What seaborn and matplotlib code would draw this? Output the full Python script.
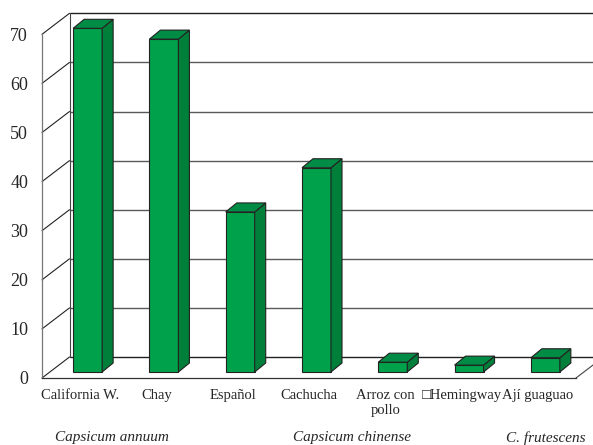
import numpy as np
import pandas as pd
import matplotlib
matplotlib.use("Agg")
import matplotlib.pyplot as plt
import seaborn as sns
from matplotlib.patches import Polygon
from matplotlib.transforms import blended_transform_factory

# ------------------------------------------------------------
# Data
# ------------------------------------------------------------
cultivars = ["California W.", "Chay", "Español", "Cachucha",
             "Arroz con\npollo", "\u25a1Hemingway", "Ají guaguao"]
values = [70.0, 67.8, 32.6, 41.6, 2.0, 1.4, 2.9]
species = ["Capsicum annuum", "Capsicum chinense", "C. frutescens"]
species_pos = [0.42, 3.56, 6.1]
y_ticks = [0, 10, 20, 30, 40, 50, 60, 70]

df = pd.DataFrame({"cultivar": cultivars, "value": values})

sns.set_style("white")
plt.rcParams["font.family"] = ["Liberation Serif", "DejaVu Serif"]

W, H = 593, 445
fig = plt.figure(figsize=(W / 100, H / 100), dpi=100)
ax = fig.add_axes([42 / W, (H - 378) / H, (576 - 42) / W, 343.7 / H])

# pixels per data unit
sx = (576 - 42) / 7
sy = 343.7 / 70

FRONT = "#00A14B"
TOP = "#008C45"
SIDE = "#007F3B"
EDGE = "#222222"

# ------------------------------------------------------------
# 3D frame: back wall, left wall, floor
# ------------------------------------------------------------
wdx = 27.5 / sx
wdy = 21 / sy
x0 = -0.5
for v in y_ticks:
    # diagonal on left wall
    ax.plot([x0, x0 + wdx], [v, v + wdy], color="#222222", lw=0.8,
            clip_on=False, zorder=1)
    # gridline on back wall
    ax.plot([x0 + wdx, 7.2], [v + wdy, v + wdy],
            color="#222222" if v in (0, 70) else "#5a5a5a",
            lw=1.0, clip_on=False, zorder=1)
ax.plot([x0 + wdx, x0 + wdx], [wdy, 70 + wdy], color="#444444", lw=0.8,
        clip_on=False, zorder=1)
ax.plot([6.5, 6.5 + wdx], [0, wdy], color="#444444", lw=0.8,
        clip_on=False, zorder=1)

# ------------------------------------------------------------
# Bars
# ------------------------------------------------------------
sns.barplot(data=df, x="cultivar", y="value", color=FRONT, saturation=1,
            width=0.38, edgecolor=EDGE, linewidth=0.8, ax=ax)

bx = 7.5 / sx
by = 6 / sy
ddx = 11 / sx
ddy = 9 / sy
for p in ax.patches:
    p.set_x(p.get_x() + bx)
    p.set_y(by)
    p.set_zorder(3)
    p.set_clip_on(False)
    xa = p.get_x()
    xb = xa + p.get_width()
    top = by + p.get_height()
    side = Polygon([(xb, by), (xb, top), (xb + ddx, top + ddy), (xb + ddx, by + ddy)],
                   closed=True, facecolor=SIDE, edgecolor=EDGE, lw=0.8,
                   zorder=3, clip_on=False)
    lid = Polygon([(xa, top), (xb, top), (xb + ddx, top + ddy), (xa + ddx, top + ddy)],
                  closed=True, facecolor=TOP, edgecolor=EDGE, lw=0.8,
                  zorder=3, clip_on=False)
    ax.add_patch(side)
    ax.add_patch(lid)

ax.set_xlim(-0.5, 6.5)
ax.set_ylim(0, 70)

# ------------------------------------------------------------
# Axes, ticks, labels
# ------------------------------------------------------------
ax.set_xlabel("")
ax.set_ylabel("")
ax.set_xticks(range(len(cultivars)))
ax.set_xticklabels(cultivars, fontsize=10.5, linespacing=1.15)
ax.set_xticks(np.arange(-0.5, 7, 1), minor=True)
ax.tick_params(axis="x", which="major", length=0, pad=8)
ax.tick_params(axis="x", which="minor", length=8, width=0.9, color="#333333")
ax.set_yticks(y_ticks)
ax.tick_params(axis="y", length=8, width=0.9, color="#333333", pad=2,
               labelsize=13)

for s in ["top", "right"]:
    ax.spines[s].set_visible(False)
ax.spines["left"].set_color("#777777")
ax.spines["left"].set_linewidth(0.9)
ax.spines["bottom"].set_color("#333333")
ax.spines["bottom"].set_linewidth(0.9)
ax.set_facecolor("none")

trans = blended_transform_factory(ax.transData, fig.transFigure)
for name, xp in zip(species, species_pos):
    ax.text(xp, (H - 438) / H, name, transform=trans, ha="center",
            va="center", fontsize=11, style="italic")

fig.savefig("out.png", dpi=100)
